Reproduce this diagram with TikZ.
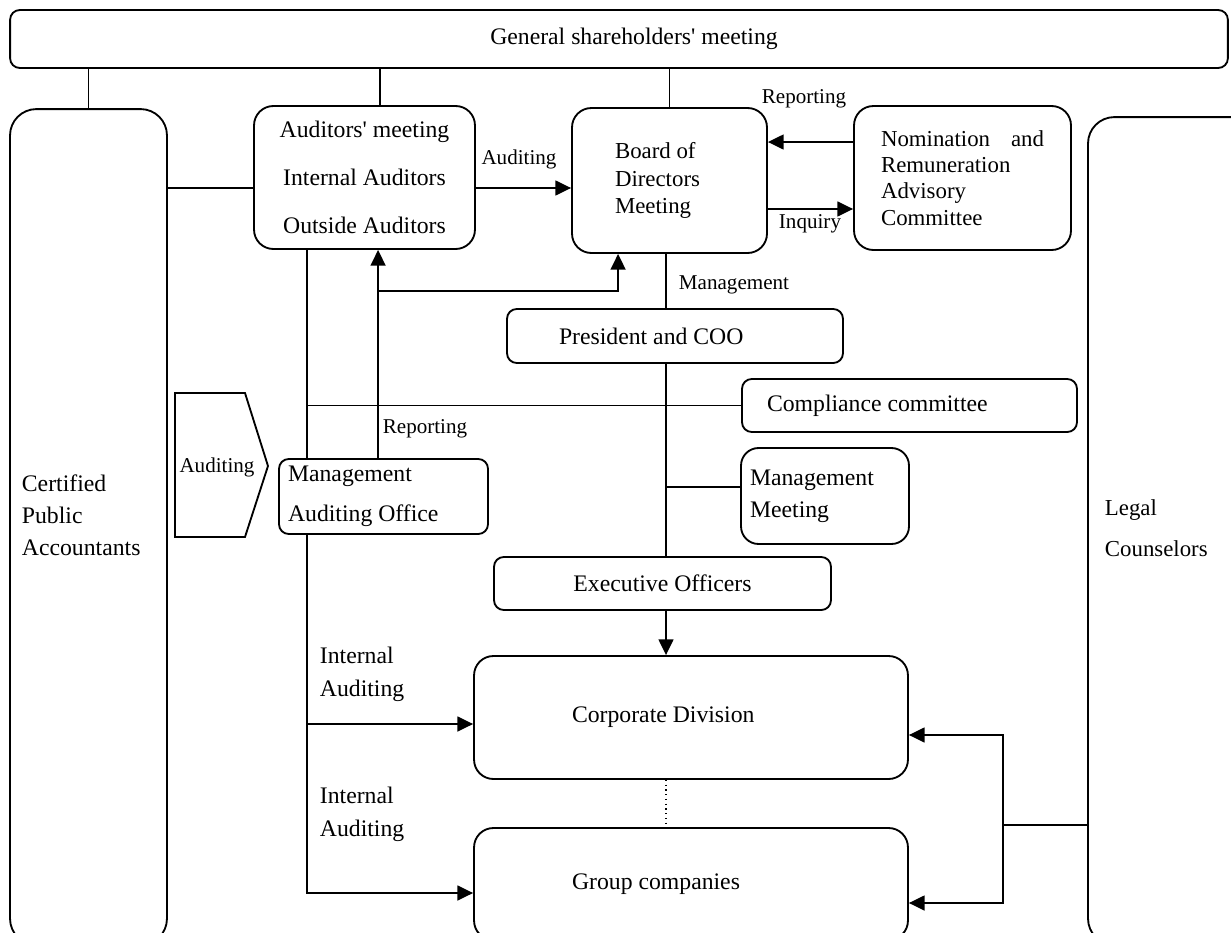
\documentclass[tikz,border=0pt]{standalone}
\usepackage{fontspec}
\setmainfont{Liberation Serif}
\usetikzlibrary{arrows.meta, positioning, calc}
\tikzstyle{arrow} = [-{Triangle[length=9pt, width=8.5pt]}]

\begin{document}
\begin{tikzpicture}[
  x=0.02cm, y=-0.02cm, line width=1.05pt,
  roundbox/.style={draw, rounded corners=11pt, inner ysep=0pt},
  flatbox/.style={draw, rounded corners=5.5pt, inner ysep=0pt},
  sidebox/.style={draw, rounded corners=15pt},
  lbl/.style={font=\fontsize{12}{14}\selectfont, inner sep=0pt},
  boxfont/.style={font=\fontsize{13.5}{16}\selectfont}
]
\clip (0,0) rectangle (1231,933);

% Shareholders
\node[flatbox, boxfont, minimum width=24.36cm, minimum height=1.16cm] (gsm) at (619,39)
  {\hspace*{0.6cm}General shareholders\textquotesingle\ meeting};

% Outside parties
\node[sidebox, minimum width=3.14cm, minimum height=16.72cm] (cpa) at (88.5,527) {};
\node[lbl, align=flush left, anchor=west, font=\fontsize{13.5}{18.2}\selectfont] (cpatxt) at (21,515)
  {Certified\\Public\\Accountants};
\node[sidebox, minimum width=3.64cm, minimum height=16.56cm] (legal) at (1179,531) {};
\node[lbl, align=flush left, anchor=west, font=\fontsize{13}{23.3}\selectfont] (legaltxt) at (1104,528)
  {Legal\\Counselors};

% Auditors and board
\node[roundbox, minimum width=4.42cm, minimum height=2.86cm, align=center,
  font=\fontsize{13.5}{27.3}\selectfont] (aud) at (364.5,177.5)
  {Auditors\textquotesingle\ meeting\\Internal Auditors\\Outside Auditors};
\node[roundbox, minimum height=2.9cm, text width=2.18cm, inner xsep=0.86cm, align=flush left,
  font=\fontsize{13}{15.6}\selectfont] (board) at (669.5,180.5)
  {Board of\\Directors\\Meeting};
\node[roundbox, minimum height=2.88cm, text width=3.26cm, inner xsep=0.54cm, align=flush left,
  font=\fontsize{13}{15}\selectfont] (nom) at (962.5,178)
  {Nomination\hfill and\\Remuneration\\Advisory\\Committee};

% Management line
\node[flatbox, boxfont, minimum height=1.08cm, text width=4.64cm, inner xsep=1.04cm, align=flush left] (pres) at (675,336)
  {President and COO};
\node[flatbox, boxfont, minimum height=1.06cm, text width=5.7cm, inner xsep=0.5cm, align=flush left] (comp) at (909.5,405.5)
  {Compliance committee};
\node[roundbox, rounded corners=10pt, minimum height=1.92cm, text width=3.0cm, inner xsep=0.18cm, align=flush left,
  font=\fontsize{13.5}{18.2}\selectfont] (mm) at (825,496)
  {Management\\Meeting};
\node[flatbox, boxfont, minimum width=6.74cm, minimum height=1.06cm] (eo) at (662.5,583.5)
  {Executive Officers};
\node[flatbox, minimum height=1.5cm, text width=3.82cm, inner xsep=0.18cm, align=flush left,
  font=\fontsize{13.5}{22.8}\selectfont] (mao) at (383.5,496.5)
  {Management\\Auditing Office};

% Business units
\node[roundbox, boxfont, minimum height=2.46cm, text width=4.76cm, inner xsep=1.96cm, align=flush left] (corp) at (691,717.5)
  {Corporate Division};
\node[roundbox, boxfont, minimum height=2.24cm, text width=4.76cm, inner xsep=1.96cm, align=flush left] (grp) at (691,884)
  {Group companies};

% Auditing chevron
\draw (175,393) -- (245,393) -- (268,466) -- (245,537) -- (175,537) -- cycle;
\node[lbl] (audsig) at (217,467) {Auditing};

% Labels
\node[lbl] (lblaud) at (519,159) {Auditing};
\node[lbl] (lblrep) at (804,99) {Reporting};
\node[lbl] (lblinq) at (810,224) {Inquiry};
\node[lbl] (lblmgt) at (734,285) {Management};
\node[lbl] (lblrep2) at (425,429) {Reporting};
\node[lbl, align=flush left, anchor=west, font=\fontsize{13.5}{18.8}\selectfont] (lblia) at (319,674.5)
  {Internal\\Auditing};
\node[lbl, align=flush left, anchor=west, font=\fontsize{13.5}{18.8}\selectfont] (lblia2) at (319,814)
  {Internal\\Auditing};

% Shareholder links
\draw (cpa.north) -- (cpa.north |- gsm.south);
\draw ([xshift=0.31cm]aud.north) -- ([xshift=0.31cm]aud.north |- gsm.south);
\draw (board.north) -- (board.north |- gsm.south);

% Auditing and advisory arrows
\draw ([yshift=-0.21cm]cpa.east |- aud.west) -- ([yshift=-0.21cm]aud.west);
\draw[arrow] ([yshift=-0.21cm]aud.east) -- ([yshift=-0.21cm]aud.east -| board.west);
\draw[arrow] ([yshift=0.72cm]nom.west) -- ([yshift=0.72cm]nom.west -| board.east);
\draw[arrow] ([yshift=-0.57cm]board.east) -- ([yshift=-0.57cm]board.east -| nom.west);

% Management chain
\draw ([xshift=-0.07cm]board.south) -- ([xshift=-0.07cm]board.south |- pres.north);
\draw ([xshift=0.07cm]eo.north) -- ([xshift=0.07cm]eo.north |- pres.south);
\draw ([xshift=0.07cm, yshift=0.18cm]mm.west -| eo.north) -- ([yshift=0.18cm]mm.west);
\draw[arrow] ([xshift=0.07cm]eo.south) -- ([xshift=0.07cm]eo.south |- corp.north);
\draw[dotted, line width=0.7pt] ([xshift=0.07cm]eo.south |- corp.south) -- ([xshift=0.07cm]eo.south |- grp.north);

% Internal auditing
\draw ([xshift=1.08cm]aud.south west) -- ([xshift=1.08cm]aud.south west |- mao.north);
\draw (comp.west) -- ([xshift=1.08cm]aud.south west |- comp.west);
\draw[arrow] ([xshift=0.58cm]mao.south west) |- ([yshift=-0.18cm]grp.west);
\draw[arrow] ([xshift=0.58cm, yshift=-0.13cm]mao.south west |- corp.west) -- ([yshift=-0.13cm]corp.west);

% Reporting
\draw[arrow] ([xshift=2cm]mao.north west) -- ([xshift=2cm]mao.north west |- aud.south);
\draw[arrow] ([xshift=2cm, yshift=-0.82cm]mao.north west |- aud.south) -| ([xshift=0.94cm]board.south west);

% Legal counsel
\coordinate (lglj) at ([xshift=-1.68cm, yshift=-5.88cm]legal.west);
\draw (legal.west |- lglj) -- (lglj);
\draw[arrow] (lglj) |- ([yshift=-0.35cm]corp.east);
\draw[arrow] (lglj) |- ([yshift=-0.38cm]grp.east);

\end{tikzpicture}
\end{document}
